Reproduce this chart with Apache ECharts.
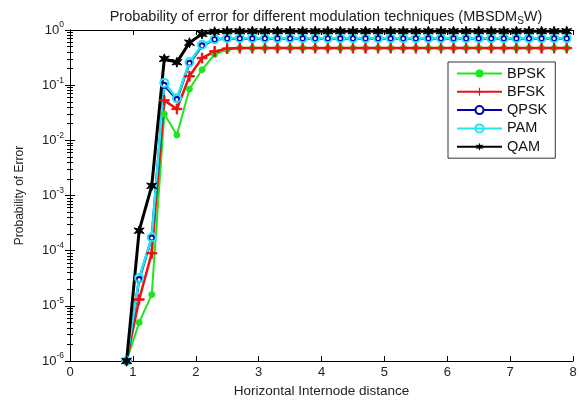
<!DOCTYPE html>
<html lang="en">
<head>
  <meta charset="UTF-8">
  <title>Probability of error</title>
  <style>
    body { margin: 0; padding: 0; background: #fff; }
    #chart { width: 581px; height: 403px; }
  </style>
  <script src="https://cdn.jsdelivr.net/npm/echarts@6/dist/echarts.min.js"></script>
</head>
<body>
  <div id="chart"></div>
  <script>
    // distance values (x)
    const distance = [0.9, 1.1, 1.3, 1.5, 1.7, 1.9, 2.1, 2.3, 2.5, 2.7, 2.9, 3.1, 3.3, 3.5, 3.7, 3.9, 4.1, 4.3,
      4.5, 4.7, 4.9, 5.1, 5.3, 5.5, 5.7, 5.9, 6.1, 6.3, 6.5, 6.7, 6.9, 7.1, 7.3, 7.5, 7.7, 7.9];

    // probability of error per technique
    const bpsk = [1e-6, 5e-6, 1.6e-5, 0.03, 0.0125, 0.085, 0.19, 0.36, 0.44, 0.47, 0.47, 0.47, 0.47, 0.47, 0.47, 0.47, 0.47, 0.47,
      0.47, 0.47, 0.47, 0.47, 0.47, 0.47, 0.47, 0.47, 0.47, 0.47, 0.47, 0.47, 0.47, 0.47, 0.47, 0.47, 0.47, 0.47];
    const bfsk = [1e-6, 1.3e-5, 9e-5, 0.053, 0.037, 0.145, 0.31, 0.41, 0.46, 0.47, 0.47, 0.47, 0.47, 0.47, 0.47, 0.47, 0.47, 0.47,
      0.47, 0.47, 0.47, 0.47, 0.47, 0.47, 0.47, 0.47, 0.47, 0.47, 0.47, 0.47, 0.47, 0.47, 0.47, 0.47, 0.47, 0.47];
    const qpsk = [1e-6, 3e-5, 1.7e-4, 0.1, 0.055, 0.25, 0.52, 0.67, 0.7, 0.7, 0.7, 0.7, 0.7, 0.7, 0.7, 0.7, 0.7, 0.7,
      0.7, 0.7, 0.7, 0.7, 0.7, 0.7, 0.7, 0.7, 0.7, 0.7, 0.7, 0.7, 0.7, 0.7, 0.7, 0.7, 0.7, 0.7];
    const pam = [1e-6, 3.2e-5, 1.75e-4, 0.11, 0.058, 0.26, 0.54, 0.68, 0.71, 0.71, 0.71, 0.71, 0.71, 0.71, 0.71, 0.71, 0.71, 0.71,
      0.71, 0.71, 0.71, 0.71, 0.71, 0.71, 0.71, 0.71, 0.71, 0.71, 0.71, 0.71, 0.71, 0.71, 0.71, 0.71, 0.71, 0.71];
    const qam = [1e-6, 2.3e-4, 1.5e-3, 0.3, 0.26, 0.59, 0.85, 0.93, 0.95, 0.95, 0.95, 0.95, 0.95, 0.95, 0.95, 0.95, 0.95, 0.95,
      0.95, 0.95, 0.95, 0.95, 0.95, 0.95, 0.95, 0.95, 0.95, 0.95, 0.95, 0.95, 0.95, 0.95, 0.95, 0.95, 0.95, 0.95];

    const xTicks = [0, 1, 2, 3, 4, 5, 6, 7, 8];

    const font = 'Liberation Sans, Arial, sans-serif';
    const plusPath = 'path://M4.3,0H5.7V4.3H10V5.7H5.7V10H4.3V5.7H0V4.3H4.3Z';
    const starPath = 'path://M5,0L6.2,3.2L9.8,2.2L7.4,5L9.8,7.8L6.2,6.8L5,10L3.8,6.8L0.2,7.8L2.6,5L0.2,2.2L3.8,3.2Z';

    function pairs(ys) {
      return distance.map((x, i) => [x, ys[i]]);
    }

    let chart = echarts.init(document.getElementById('chart'));

    const axisCommon = {
      axisLine: { show: true, lineStyle: { color: '#000', width: 1 } },
      axisTick: { show: true, inside: true, length: 5, lineStyle: { color: '#000' } },
      splitLine: { show: false }
    };

    function line(name, data, color, symbol, size, extra) {
      return Object.assign({
        name: name,
        type: 'line',
        data: pairs(data),
        symbol: symbol,
        symbolSize: size,
        showSymbol: true,
        lineStyle: { color: color, width: 2.5 },
        itemStyle: { color: color, borderColor: color },
        animation: false
      }, extra || {});
    }

    let option = {
      backgroundColor: '#fff',
      textStyle: { fontFamily: font },
      title: {
        text: '{t|Probability of error for different modulation techniques (MBSDM}{s|S}{t|W)}',
        left: 321,
        textAlign: 'center',
        top: 2,
        textStyle: {
          fontWeight: 'normal',
          rich: {
            t: { fontFamily: font, fontSize: 14.5, fontWeight: 'normal', color: '#222' },
            s: { fontFamily: font, fontSize: 10, fontWeight: 'normal', color: '#222', padding: [9, 0, 0, 0] }
          }
        }
      },
      legend: {
        orient: 'vertical',
        left: 448,
        top: 62,
        padding: [4, 8, 4, 8],
        itemWidth: 45,
        itemHeight: 10,
        itemGap: 3.3,
        backgroundColor: '#fff',
        borderColor: '#333',
        borderWidth: 1,
        borderRadius: 0,
        textStyle: { fontFamily: font, fontSize: 14.5, lineHeight: 15, color: '#111' },
        data: ['BPSK', 'BFSK', 'QPSK', 'PAM', 'QAM']
      },
      grid: { left: 70, right: 8, top: 30, bottom: 39 },
      xAxis: [
        Object.assign({
          type: 'value',
          min: 0,
          max: 8,
          interval: 1,
          name: 'Horizontal Internode distance',
          nameLocation: 'middle',
          nameGap: 23,
          nameTextStyle: { fontFamily: font, fontSize: 13.5, color: '#222' },
          axisLabel: {
            fontFamily: font, fontSize: 13, color: '#222', margin: 5,
            formatter: v => (xTicks.indexOf(v) >= 0 ? String(v) : '')
          }
        }, axisCommon),
        Object.assign({
          type: 'value',
          position: 'top',
          min: 0,
          max: 8,
          interval: 1,
          axisLabel: { show: false }
        }, axisCommon)
      ],
      yAxis: [
        Object.assign({
          type: 'log',
          logBase: 10,
          min: 1e-6,
          max: 1,
          name: 'Probability of Error',
          nameLocation: 'middle',
          nameGap: 44,
          nameTextStyle: { fontFamily: font, fontSize: 12, color: '#222' },
          minorTick: { show: true, splitNumber: 9, length: 3, lineStyle: { color: '#000' } },
          axisLabel: {
            margin: 6,
            formatter: v => '{b|10}{e|' + Math.round(Math.log10(v)) + '}',
            rich: {
              b: { fontFamily: font, fontSize: 13, color: '#222' },
              e: { fontFamily: font, fontSize: 8.5, color: '#222', padding: [0, 0, 10, 0] }
            }
          }
        }, axisCommon),
        Object.assign({
          type: 'log',
          logBase: 10,
          position: 'right',
          min: 1e-6,
          max: 1,
          minorTick: { show: true, splitNumber: 9, length: 3, lineStyle: { color: '#000' } },
          axisLabel: { show: false }
        }, axisCommon)
      ],
      series: [
        line('BPSK', bpsk, '#1ee61e', 'circle', 6, { lineStyle: { color: '#1ee61e', width: 2 } }),
        line('BFSK', bfsk, '#ee1111', plusPath, 10),
        line('QPSK', qpsk, '#0000b4', 'circle', 5, {
          itemStyle: { color: '#fff', borderColor: '#0000b4', borderWidth: 2 }
        }),
        line('PAM', pam, '#22e6ee', 'circle', 8, {
          itemStyle: { color: 'rgba(0,0,0,0)', borderColor: '#22e6ee', borderWidth: 2 }
        }),
        line('QAM', qam, '#000', starPath, 10, { lineStyle: { color: '#000', width: 3 } })
      ]
    };
    chart.setOption(option);
  </script>
</body>
</html>
